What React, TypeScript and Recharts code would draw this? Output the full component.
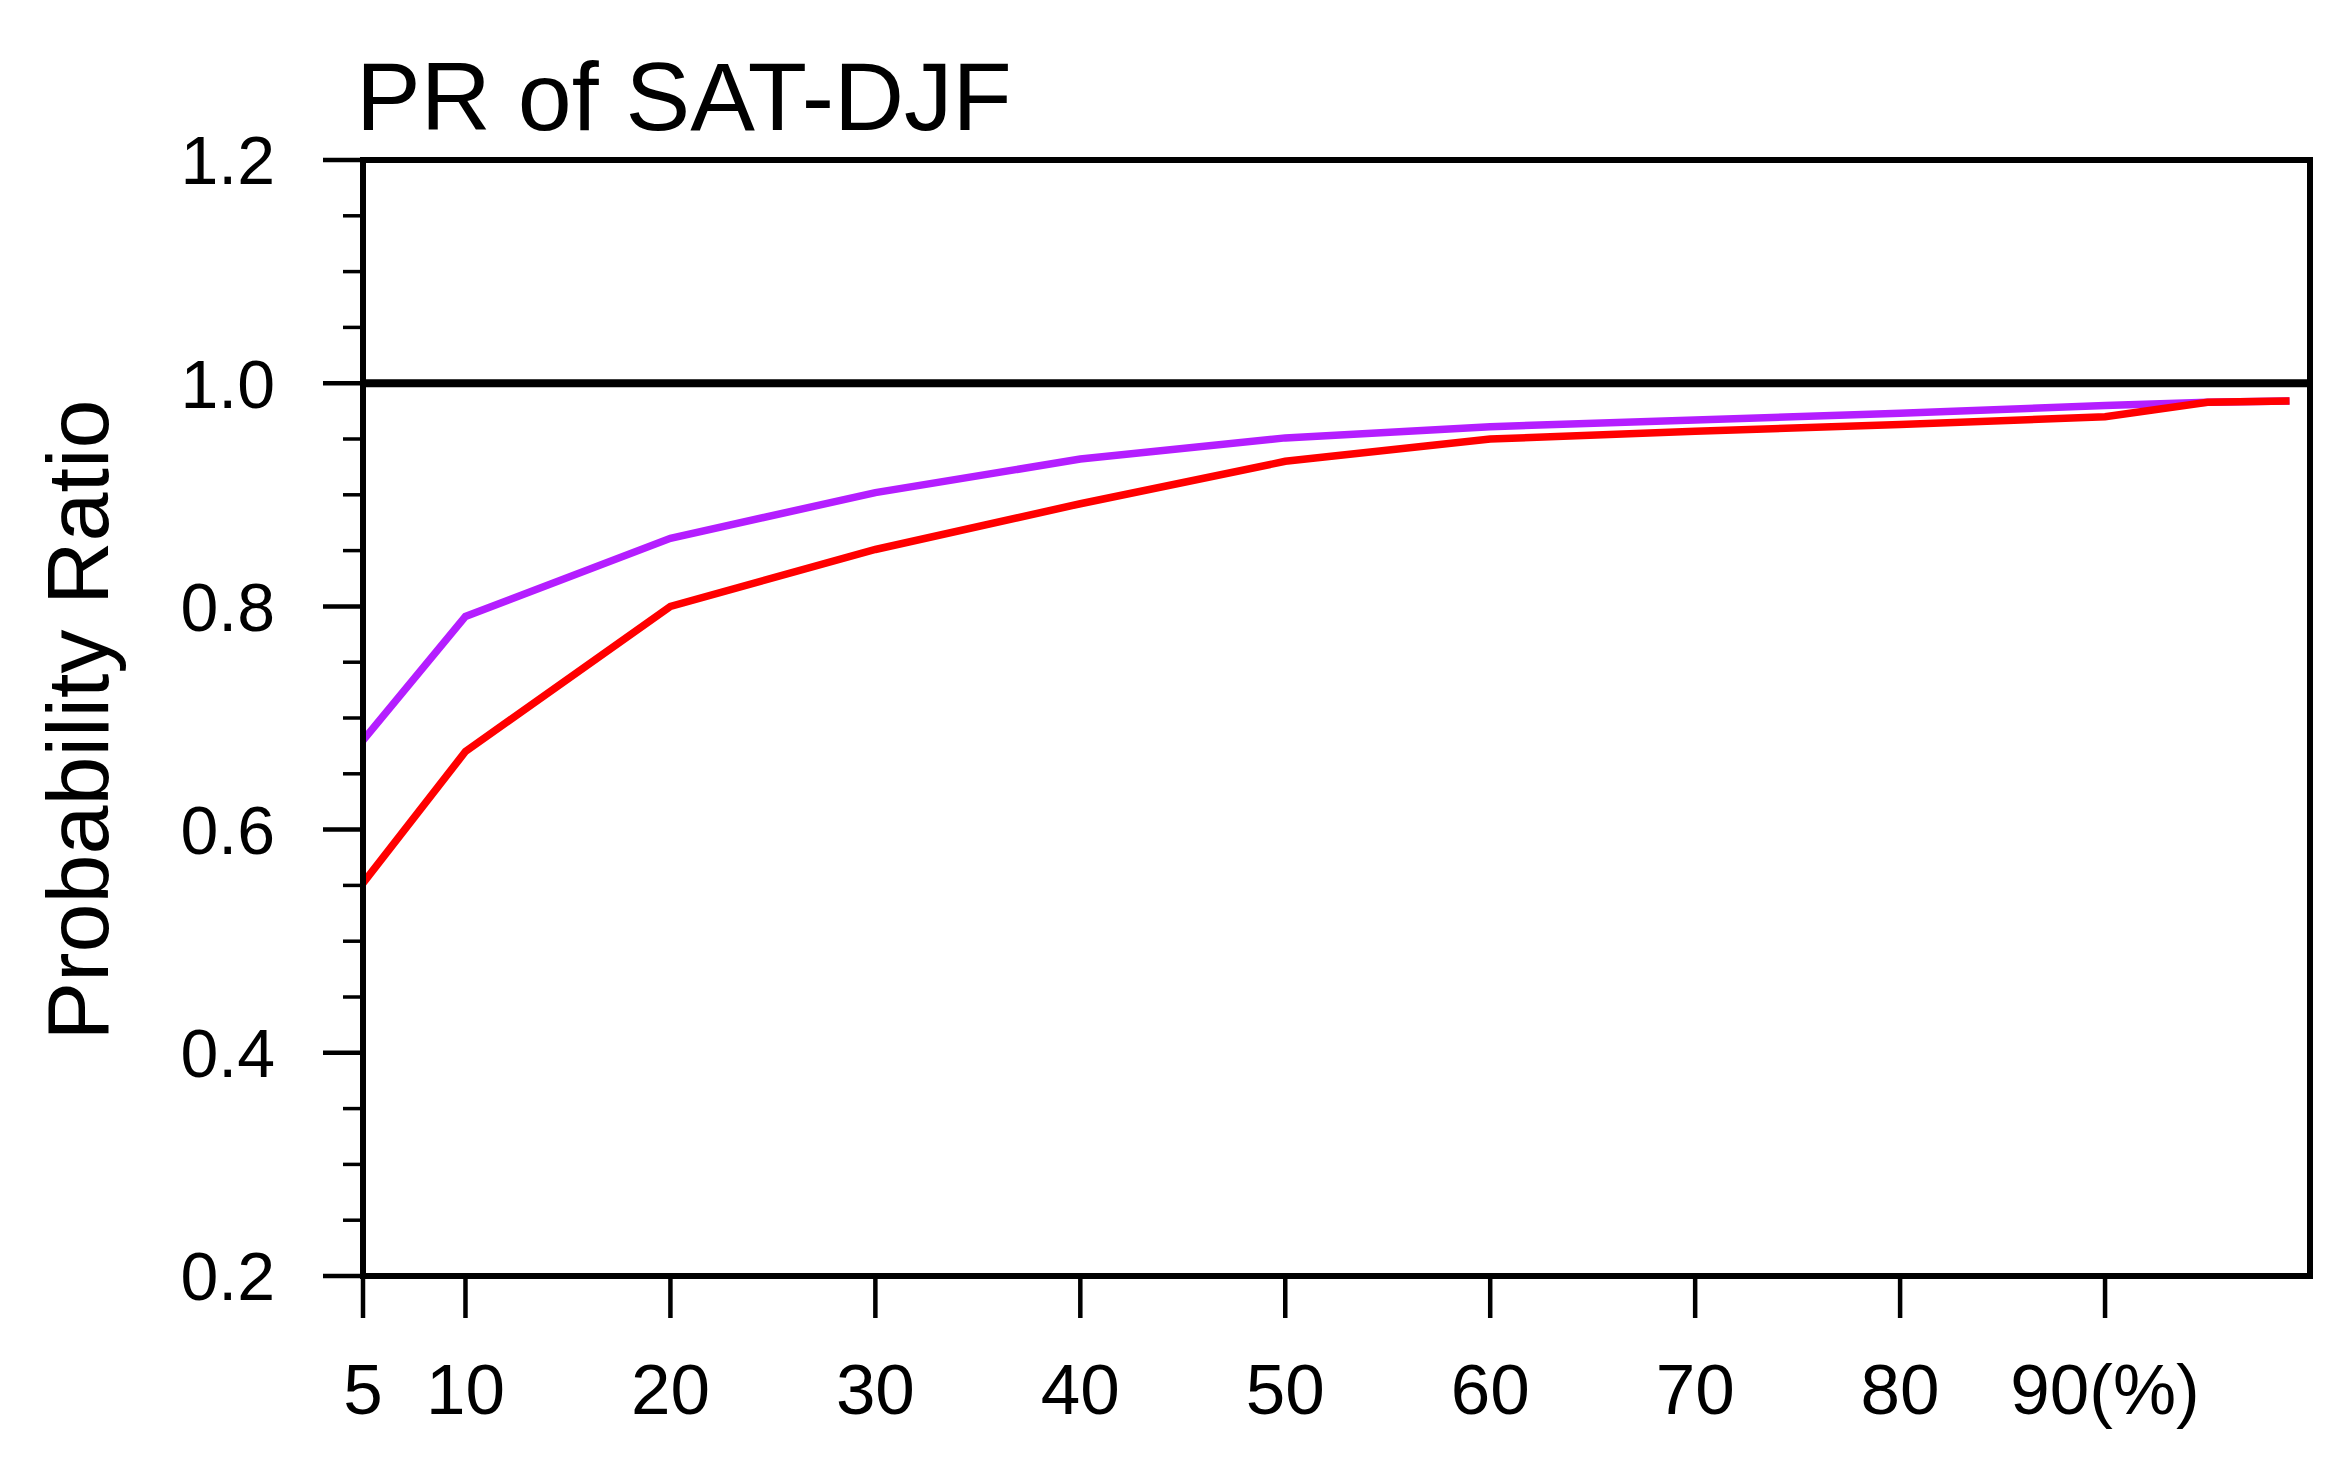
import { Line, LineChart, ReferenceArea, ReferenceLine, XAxis, YAxis } from "recharts";

const percentiles = [5, 10, 20, 30, 40, 50, 60, 70, 80, 90, 95, 99];
const purpleSeries = [0.68, 0.791, 0.861, 0.902, 0.932, 0.951, 0.961, 0.967, 0.973, 0.98, 0.983, 0.984];
const redSeries = [0.552, 0.67, 0.8, 0.851, 0.892, 0.93, 0.95, 0.957, 0.963, 0.97, 0.983, 0.984];

const xTicks = [5, 10, 20, 30, 40, 50, 60, 70, 80, 90];
const yTicks = [0.2, 0.25, 0.3, 0.35, 0.4, 0.45, 0.5, 0.55, 0.6, 0.65, 0.7, 0.75, 0.8, 0.85, 0.9, 0.95, 1.0, 1.05, 1.1, 1.15, 1.2];
const yMajorLabels = ["0.2", "0.4", "0.6", "0.8", "1.0", "1.2"];

const data = percentiles.map((p, i) => ({ p, purple: purpleSeries[i], red: redSeries[i] }));

const FONT = '"Liberation Sans", Arial, Helvetica, sans-serif';
const W = 2351;
const H = 1462;
const Y_TICK_SIZE = 40;
const Y_TICK_MARGIN = 48;

function YTick(props: any) {
  const { x, y, payload } = props;
  const v = payload.value as number;
  const major = Math.abs(v * 5 - Math.round(v * 5)) < 1e-6;
  const axisX = x + Y_TICK_SIZE + Y_TICK_MARGIN;
  const len = major ? Y_TICK_SIZE : 20;
  return (
    <g>
      <line x1={axisX - len} x2={axisX} y1={y} y2={y} stroke="#000" strokeWidth={major ? 4.5 : 3.5} />
      {major && (
        <text x={x} y={y} dy="0.36em" textAnchor="end" fontSize={68} fontFamily={FONT} fill="#000">
          {yMajorLabels[Math.round((v - 0.2) * 5)]}
        </text>
      )}
    </g>
  );
}

export default function App() {
  return (
    <div style={{ position: "absolute", left: 0, top: 0, width: W, height: H, background: "#fff" }}>
      <svg width={W} height={H} style={{ position: "absolute", left: 0, top: 0 }}>
        <text x={356} y={130} fontSize={97} fontFamily={FONT} fill="#000">
          PR of SAT-DJF
        </text>
        <text
          x={108}
          y={720}
          fontSize={88}
          fontFamily={FONT}
          fill="#000"
          textAnchor="middle"
          transform="rotate(-90, 108, 720)"
        >
          Probability Ratio
        </text>
      </svg>
      <div style={{ position: "absolute", left: 0, top: 0 }}>
        <LineChart width={W} height={H} data={data} margin={{ top: 160, right: 41, bottom: 36, left: 163 }}>
          <XAxis
            dataKey="p"
            type="number"
            domain={[5, 100]}
            ticks={xTicks}
            interval={0}
            height={150}
            tickSize={42}
            tickMargin={46}
            stroke="#000"
            axisLine={{ stroke: "#000", strokeWidth: 6 }}
            tickLine={{ stroke: "#000", strokeWidth: 4.5 }}
            tick={{ fontSize: 71, fontFamily: FONT, fill: "#000" }}
            tickFormatter={(v: number) => (v === 90 ? "90(%)" : String(v))}
            allowDataOverflow
          />
          <YAxis
            type="number"
            domain={[0.2, 1.2]}
            ticks={yTicks}
            interval={0}
            width={200}
            tickSize={Y_TICK_SIZE}
            tickMargin={Y_TICK_MARGIN}
            tickLine={false}
            axisLine={{ stroke: "#000", strokeWidth: 6 }}
            tick={<YTick />}
            allowDataOverflow
          />
          <ReferenceArea x1={5} x2={100} y1={0.2} y2={1.2} fill="none" stroke="#000" strokeWidth={6} />
          <ReferenceLine y={1} stroke="#000" strokeWidth={8} />
          <Line
            type="linear"
            dataKey="purple"
            stroke="#b41eff"
            strokeWidth={7.5}
            dot={false}
            isAnimationActive={false}
          />
          <Line
            type="linear"
            dataKey="red"
            stroke="#ff0000"
            strokeWidth={7.5}
            dot={false}
            isAnimationActive={false}
          />
        </LineChart>
      </div>
    </div>
  );
}
